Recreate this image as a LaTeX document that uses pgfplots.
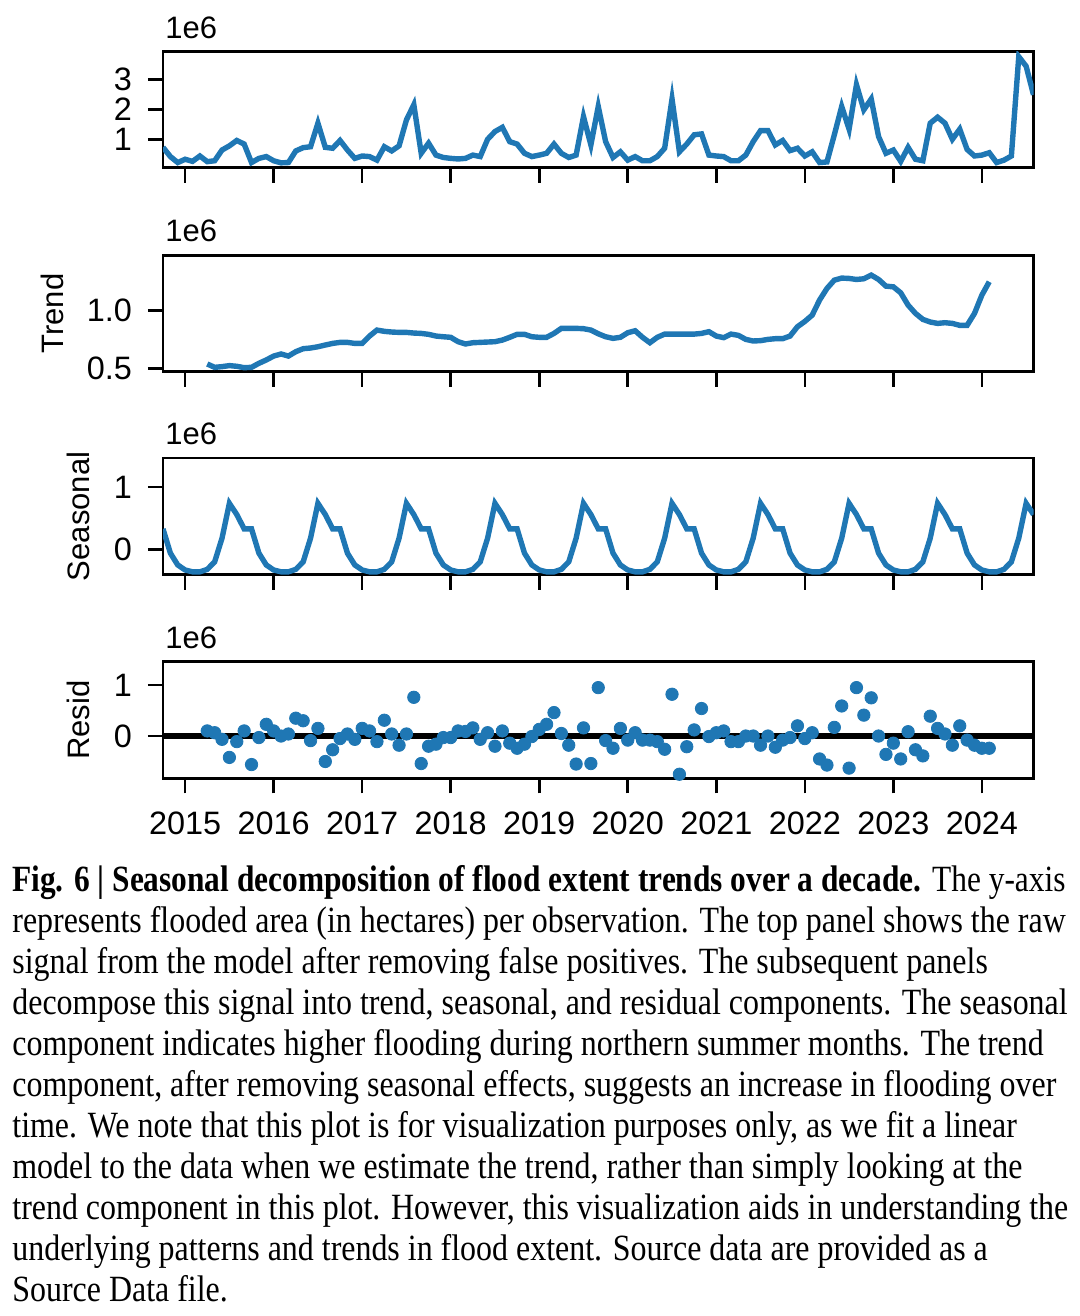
\documentclass[border=0pt]{standalone}
\usepackage{fontspec}
\setmainfont{Liberation Sans}
\newfontfamily\capfont[FakeStretch=0.863]{Liberation Serif}
\usepackage{graphicx}
\usepackage{pgfplots}
\usepackage{pgfplotstable}
\pgfplotsset{compat=1.18}
\definecolor{tabblue}{HTML}{1F77B4}

\pgfplotstableread{
k v
0 0.73
1 0.42
2 0.22
3 0.33
4 0.26
5 0.44
6 0.25
7 0.28
8 0.64
9 0.78
10 0.96
11 0.84
12 0.22
13 0.36
14 0.42
15 0.28
16 0.21
17 0.22
18 0.61
19 0.72
20 0.75
21 1.54
22 0.73
23 0.70
24 0.96
25 0.64
26 0.36
27 0.44
28 0.42
29 0.30
30 0.75
31 0.61
32 0.78
33 1.65
34 2.16
35 0.53
36 0.87
37 0.47
38 0.39
39 0.36
40 0.34
41 0.36
42 0.47
43 0.42
44 1.00
45 1.26
46 1.40
47 0.92
48 0.84
49 0.53
50 0.42
51 0.47
52 0.53
53 0.84
54 0.53
55 0.39
56 0.47
57 1.76
58 0.81
59 2.10
60 0.92
61 0.39
62 0.58
63 0.30
64 0.42
65 0.28
66 0.28
67 0.42
68 0.70
69 2.35
70 0.58
71 0.84
72 1.15
73 1.18
74 0.47
75 0.44
76 0.42
77 0.28
78 0.28
79 0.47
80 0.92
81 1.29
82 1.29
83 0.81
84 0.96
85 0.62
86 0.70
87 0.44
88 0.58
89 0.22
90 0.24
91 1.15
92 2.10
93 1.34
94 2.83
95 1.99
96 2.35
97 1.09
98 0.53
99 0.64
100 0.26
101 0.73
102 0.33
103 0.28
104 1.54
105 1.74
106 1.54
107 1.00
108 1.34
109 0.66
110 0.44
111 0.47
112 0.55
113 0.22
114 0.30
115 0.44
116 3.77
117 3.45
118 2.49
}\observed

\pgfplotstableread{
k v
6 0.537
7 0.508
8 0.514
9 0.523
10 0.517
11 0.505
12 0.508
13 0.543
14 0.572
15 0.606
16 0.624
17 0.606
18 0.644
19 0.670
20 0.676
21 0.687
22 0.702
23 0.716
24 0.725
25 0.725
26 0.716
27 0.716
28 0.780
29 0.832
30 0.821
31 0.815
32 0.812
33 0.812
34 0.806
35 0.803
36 0.795
37 0.780
38 0.774
39 0.769
40 0.731
41 0.711
42 0.722
43 0.725
44 0.728
45 0.731
46 0.745
47 0.769
48 0.795
49 0.795
50 0.774
51 0.769
52 0.769
53 0.803
54 0.847
55 0.847
56 0.847
57 0.844
58 0.832
59 0.800
60 0.774
61 0.760
62 0.769
63 0.809
64 0.826
65 0.769
66 0.722
67 0.769
68 0.797
69 0.797
70 0.797
71 0.797
72 0.797
73 0.803
74 0.818
75 0.780
76 0.766
77 0.797
78 0.786
79 0.751
80 0.737
81 0.740
82 0.751
83 0.757
84 0.757
85 0.780
86 0.861
87 0.907
88 0.962
89 1.093
90 1.194
91 1.266
92 1.284
93 1.281
94 1.272
95 1.278
96 1.310
97 1.272
98 1.214
99 1.208
100 1.156
101 1.049
102 0.977
103 0.925
104 0.902
105 0.890
106 0.896
107 0.890
108 0.873
109 0.873
110 0.977
111 1.136
112 1.252
}\trend

\pgfplotstableread{
k v
0 0.33
1 -0.06
2 -0.25
3 -0.33
4 -0.36
5 -0.36
6 -0.32
7 -0.20
8 0.18
9 0.74
10 0.56
11 0.33
12 0.33
13 -0.06
14 -0.25
15 -0.33
16 -0.36
17 -0.36
18 -0.32
19 -0.20
20 0.18
21 0.74
22 0.56
23 0.33
24 0.33
25 -0.06
26 -0.25
27 -0.33
28 -0.36
29 -0.36
30 -0.32
31 -0.20
32 0.18
33 0.74
34 0.56
35 0.33
36 0.33
37 -0.06
38 -0.25
39 -0.33
40 -0.36
41 -0.36
42 -0.32
43 -0.20
44 0.18
45 0.74
46 0.56
47 0.33
48 0.33
49 -0.06
50 -0.25
51 -0.33
52 -0.36
53 -0.36
54 -0.32
55 -0.20
56 0.18
57 0.74
58 0.56
59 0.33
60 0.33
61 -0.06
62 -0.25
63 -0.33
64 -0.36
65 -0.36
66 -0.32
67 -0.20
68 0.18
69 0.74
70 0.56
71 0.33
72 0.33
73 -0.06
74 -0.25
75 -0.33
76 -0.36
77 -0.36
78 -0.32
79 -0.20
80 0.18
81 0.74
82 0.56
83 0.33
84 0.33
85 -0.06
86 -0.25
87 -0.33
88 -0.36
89 -0.36
90 -0.32
91 -0.20
92 0.18
93 0.74
94 0.56
95 0.33
96 0.33
97 -0.06
98 -0.25
99 -0.33
100 -0.36
101 -0.36
102 -0.32
103 -0.20
104 0.18
105 0.74
106 0.56
107 0.33
108 0.33
109 -0.06
110 -0.25
111 -0.33
112 -0.36
113 -0.36
114 -0.32
115 -0.20
116 0.18
117 0.74
118 0.56
}\seasonal

\pgfplotstableread{
k v
6 0.10
7 0.065
8 -0.065
9 -0.42
10 -0.11
11 0.10
12 -0.56
13 -0.03
14 0.23
15 0.10
16 0.0
17 0.04
18 0.35
19 0.30
20 -0.09
21 0.15
22 -0.50
23 -0.27
24 -0.05
25 0.04
26 -0.065
27 0.15
28 0.10
29 -0.11
30 0.31
31 0.04
32 -0.18
33 0.04
34 0.76
35 -0.54
36 -0.20
37 -0.16
38 -0.03
39 -0.03
40 0.10
41 0.09
42 0.16
43 -0.065
44 0.065
45 -0.20
46 0.10
47 -0.14
48 -0.24
49 -0.16
50 -0.01
51 0.13
52 0.23
53 0.46
54 0.05
55 -0.18
56 -0.55
57 0.16
58 -0.54
59 0.95
60 -0.09
61 -0.24
62 0.15
63 -0.08
64 0.065
65 -0.08
66 -0.08
67 -0.11
68 -0.26
69 0.82
70 -0.75
71 -0.21
72 0.12
73 0.54
74 -0.01
75 0.065
76 0.10
77 -0.11
78 -0.11
79 0.0
80 0.0
81 -0.18
82 0.0
83 -0.22
84 -0.08
85 -0.03
86 0.20
87 -0.05
88 0.065
89 -0.45
90 -0.57
91 0.17
92 0.59
93 -0.63
94 0.95
95 0.41
96 0.75
97 0.0
98 -0.36
99 -0.14
100 -0.45
101 0.085
102 -0.27
103 -0.39
104 0.39
105 0.15
106 0.04
107 -0.18
108 0.20
109 -0.08
110 -0.18
111 -0.24
112 -0.24
}\resid

\pgfplotsset{panel/.style={
  scale only axis, width=435.25pt, height=58.25pt,
  anchor=south west,
  xmin=0, xmax=118,
  xtick={3,15,27,39,51,63,75,87,99,111},
  xticklabels={},
  tick pos=left, tick align=outside,
  major tick length=7.5pt,
  every tick/.style={black, line width=1.3pt},
  axis line style={line width=1.35pt},
  tick label style={font=\fontsize{16.2}{18}\selectfont},
  xticklabel style={yshift=-6pt},
  yticklabel style={xshift=-4.5pt},
}}

\begin{document}
\begin{tikzpicture}
\useasboundingbox (0,0) rectangle (540pt,-658pt);
\tikzset{lab/.style={font=\fontsize{15.5}{18}\selectfont, inner sep=0pt}}

% Panel 1: observed
\begin{axis}[panel, at={(81.5pt,-83.9pt)},
  ymin=0.044, ymax=3.95, ytick={1,2,3}, yticklabels={1,2,3}]
\addplot[tabblue, line width=2.7pt] table[x=k,y=v]{\observed};
\end{axis}
\node[lab, anchor=base west] at (82.5pt,-19.3pt) {1e6};

% Panel 2: trend
\begin{axis}[panel, at={(81.5pt,-185.85pt)},
  ymin=0.47, ymax=1.483, ytick={0.5,1.0}, yticklabels={0.5,1.0}]
\addplot[tabblue, line width=2.7pt] table[x=k,y=v]{\trend};
\end{axis}
\node[lab, anchor=base west] at (82.5pt,-120.8pt) {1e6};
\node[lab, rotate=90] at (26pt,-156.75pt) {Trend};

% Panel 3: seasonal
\begin{axis}[panel, at={(81.5pt,-287.25pt)},
  ymin=-0.403, ymax=1.468, ytick={0,1}, yticklabels={0,1}]
\addplot[tabblue, line width=2.7pt] table[x=k,y=v]{\seasonal};
\end{axis}
\node[lab, anchor=base west] at (82.5pt,-222.4pt) {1e6};
\node[lab, rotate=90] at (39pt,-258.2pt) {Seasonal};

% Panel 4: residual
\begin{axis}[panel, at={(81.5pt,-389.15pt)},
  ymin=-0.83, ymax=1.457, ytick={0,1}, yticklabels={0,1},
  xticklabels={2015,2016,2017,2018,2019,2020,2021,2022,2023,2024}]
\addplot[black, line width=3pt] coordinates {(0,0) (118,0)};
\addplot[only marks, mark=*, mark size=3.1pt, tabblue,
  mark options={draw=tabblue, fill=tabblue}] table[x=k,y=v]{\resid};
\end{axis}
\node[lab, anchor=base west] at (82.5pt,-324.1pt) {1e6};
\node[lab, rotate=90] at (39pt,-360pt) {Resid};

% Caption
\tikzset{capline/.style={anchor=base west, inner sep=0pt, font=\capfont\fontsize{18.5}{20.5}\selectfont}}
\node[capline] at (6pt,-445.5pt) {\resizebox{526.5pt}{\height}{\textbf{Fig. 6 | Seasonal decomposition of flood extent trends over a decade.} The y-axis}};
\node[capline] at (6pt,-466pt) {represents flooded area (in hectares) per observation. The top panel shows the raw};
\node[capline] at (6pt,-486.5pt) {signal from the model after removing false positives. The subsequent panels};
\node[capline] at (6pt,-507pt) {decompose this signal into trend, seasonal, and residual components. The seasonal};
\node[capline] at (6pt,-527.5pt) {component indicates higher flooding during northern summer months. The trend};
\node[capline] at (6pt,-548pt) {component, after removing seasonal effects, suggests an increase in flooding over};
\node[capline] at (6pt,-568.5pt) {time. We note that this plot is for visualization purposes only, as we fit a linear};
\node[capline] at (6pt,-589pt) {model to the data when we estimate the trend, rather than simply looking at the};
\node[capline] at (6pt,-609.5pt) {trend component in this plot. However, this visualization aids in understanding the};
\node[capline] at (6pt,-630pt) {underlying patterns and trends in flood extent. Source data are provided as a};
\node[capline] at (6pt,-650.5pt) {Source Data file.};
\end{tikzpicture}
\end{document}
